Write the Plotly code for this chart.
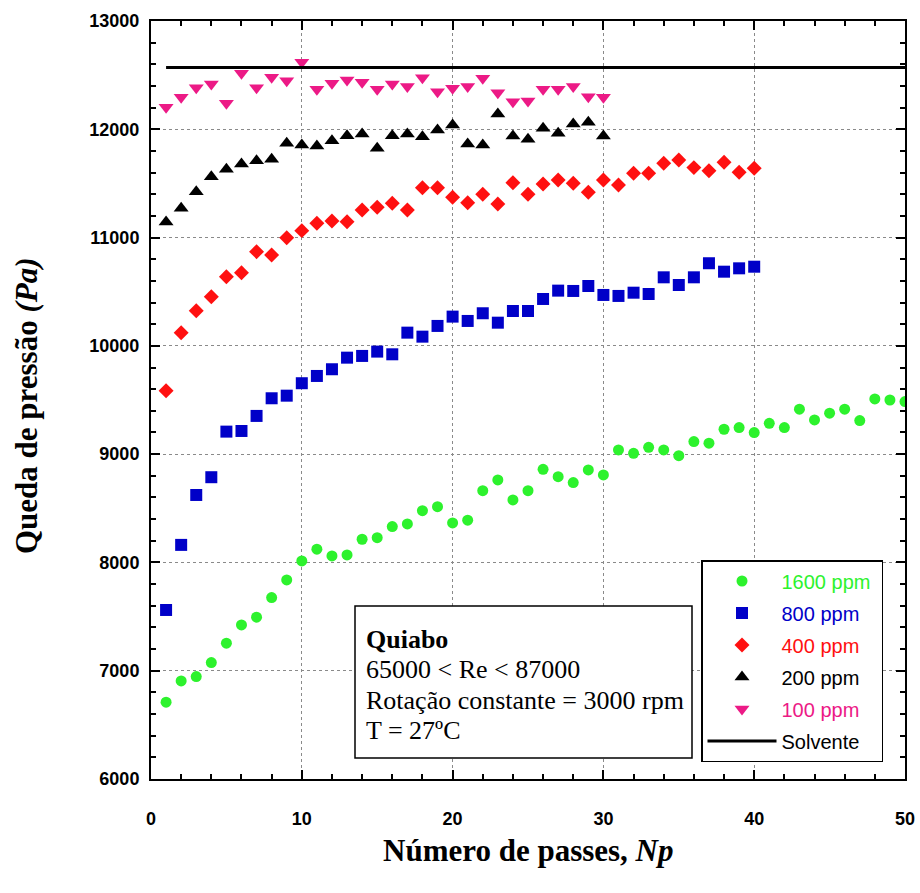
import plotly.graph_objects as go

# ---------------- data ----------------
np_1600 = list(range(1, 51))
dp_1600 = [6709, 6906, 6946, 7075, 7254, 7423, 7494, 7675, 7838, 8014,
           8122, 8060, 8069, 8214, 8229, 8331, 8356, 8478, 8515, 8365,
           8390, 8663, 8762, 8577, 8663, 8860, 8792, 8737, 8854, 8808,
           9039, 9008, 9063, 9039, 8986, 9116, 9101, 9230, 9245, 9199,
           9285, 9245, 9415, 9316, 9378, 9415, 9310, 9510, 9500, 9485]

np_800 = list(range(1, 41))
dp_800 = [7561, 8162, 8623, 8787, 9208, 9214, 9353, 9516, 9540, 9655,
          9722, 9784, 9891, 9907, 9947, 9922, 10122, 10085, 10184, 10270,
          10230, 10301, 10214, 10322, 10322, 10433, 10510, 10507, 10553, 10470,
          10461, 10491, 10479, 10633, 10562, 10633, 10763, 10685, 10716, 10731]

np_400 = list(range(1, 41))
dp_400 = [9586, 10122, 10325, 10454, 10639, 10676, 10870, 10839, 10999, 11064,
          11132, 11153, 11147, 11255, 11280, 11317, 11255, 11461, 11461, 11372,
          11322, 11400, 11310, 11507, 11400, 11495, 11532, 11501, 11418, 11532,
          11486, 11594, 11594, 11686, 11717, 11646, 11618, 11695, 11603, 11640]

np_200 = list(range(1, 31))
dp_200 = [11144, 11270, 11424, 11562, 11630, 11680, 11710, 11723, 11871, 11855,
          11846, 11895, 11941, 11957, 11825, 11941, 11957, 11932, 11994, 12040,
          11864, 11855, 12141, 11938, 11908, 12009, 11963, 12049, 12065, 11938]

np_100 = list(range(1, 31))
dp_100 = [12203, 12295, 12384, 12418, 12240, 12517, 12384, 12480, 12449, 12619,
          12369, 12424, 12455, 12434, 12369, 12418, 12394, 12477, 12347, 12378,
          12394, 12471, 12338, 12255, 12261, 12369, 12369, 12394, 12301, 12295]

solv_x = [1, 50]
solv_y = [12570, 12570]

x_ticks = [0, 10, 20, 30, 40, 50]
y_ticks = [6000, 7000, 8000, 9000, 10000, 11000, 12000, 13000]

info_lines = ["<b>Quiabo</b>", "65000 &lt; Re &lt; 87000",
              "Rotação constante = 3000 rpm", "T = 27ºC"]

# ---------------- styles ----------------
C_GREEN = "#2DF22D"
C_BLUE = "#0000C8"
C_RED = "#FF1010"
C_BLACK = "#000000"
C_PINK = "#EC1A86"

def lab(text, color):
    return f"<span style='color:{color}'>{text}</span>"

fig = go.Figure()
fig.add_trace(go.Scatter(x=np_1600, y=dp_1600, mode="markers",
                         name=lab("1600 ppm", C_GREEN) + "&nbsp;",
                         legendgroup="a",
                         marker=dict(symbol="circle", size=11, color=C_GREEN)))
fig.add_trace(go.Scatter(x=np_800, y=dp_800, mode="markers", name=lab("800 ppm", C_BLUE),
                         legendgroup="b",
                         marker=dict(symbol="square", size=12, color=C_BLUE)))
fig.add_trace(go.Scatter(x=np_400, y=dp_400, mode="markers", name=lab("400 ppm", C_RED),
                         legendgroup="c",
                         marker=dict(symbol="diamond", size=11.5, color=C_RED)))
fig.add_trace(go.Scatter(x=np_200, y=dp_200, mode="markers", name=lab("200 ppm", C_BLACK),
                         legendgroup="d",
                         marker=dict(symbol="triangle-up", size=13, color=C_BLACK)))
fig.add_trace(go.Scatter(x=np_100, y=dp_100, mode="markers", name=lab("100 ppm", C_PINK),
                         legendgroup="e",
                         marker=dict(symbol="triangle-down", size=13, color=C_PINK)))
fig.add_trace(go.Scatter(x=solv_x, y=solv_y, mode="lines", name="Solvente",
                         legendgroup="f",
                         line=dict(color="black", width=3)))

axis_common = dict(
    showline=True, linecolor="black", linewidth=2, mirror="allticks",
    ticks="inside", ticklen=9, tickwidth=2, tickcolor="black",
    showgrid=True, gridcolor="#8a8a8a", griddash="dot", gridwidth=1,
    zeroline=False, automargin=False,
    tickfont=dict(family="Liberation Sans, Arial", size=18, color="black", weight="bold"),
)

fig.update_xaxes(range=[0, 50], tickvals=x_ticks, ticktext=[str(v) for v in x_ticks],
                 minor=dict(dtick=2, ticks="inside", ticklen=5, tickwidth=2, tickcolor="black",
                            showgrid=False),
                 ticklabelstandoff=22, **axis_common)
fig.update_yaxes(range=[6000, 13000], tickvals=y_ticks, ticktext=[str(v) for v in y_ticks],
                 minor=dict(dtick=200, ticks="inside", ticklen=5, tickwidth=2, tickcolor="black",
                            showgrid=False),
                 ticklabelstandoff=6, **axis_common)

W, H = 920, 893
L, R, T, B = 151, 15, 21, 114
pw, ph = W - L - R, H - T - B

def px(xp):
    return (xp - L) / pw

def py(yp):
    return (H - B - yp) / ph

# info box
fig.add_shape(type="rect", xref="paper", yref="paper",
              x0=px(355), x1=px(692), y0=py(758), y1=py(606),
              line=dict(color="black", width=1.5), fillcolor="white", layer="above")
for i, line in enumerate(info_lines):
    fig.add_annotation(xref="paper", yref="paper", x=px(364), y=py(639 + 30.5 * i),
                       xanchor="left", yanchor="middle", align="left", showarrow=False,
                       text=line,
                       font=dict(family="Liberation Serif, Times New Roman", size=26, color="black"))

# axis titles
fig.add_annotation(xref="paper", yref="paper", x=px(528), y=py(850),
                   xanchor="center", yanchor="middle", showarrow=False,
                   text="<b>Número de passes, <i>Np</i></b>",
                   font=dict(family="Liberation Serif, Times New Roman", size=31, color="black"))
fig.add_annotation(xref="paper", yref="paper", x=px(26), y=py(406),
                   xanchor="center", yanchor="middle", showarrow=False, textangle=-90,
                   text="<b>Queda de pressão <i>(Pa)</i></b>",
                   font=dict(family="Liberation Serif, Times New Roman", size=31, color="black"))

fig.update_layout(
    width=W, height=H,
    margin=dict(l=L, r=R, t=T, b=B, autoexpand=False),
    plot_bgcolor="white", paper_bgcolor="white",
    showlegend=True,
    legend=dict(x=px(701), y=py(560), xanchor="left", yanchor="top",
                bgcolor="white", bordercolor="black", borderwidth=1.5,
                font=dict(family="Liberation Sans, Arial", size=20, color="black"),
                tracegroupgap=3, itemwidth=69, traceorder="grouped"),
)

fig.write_html("out.html")
